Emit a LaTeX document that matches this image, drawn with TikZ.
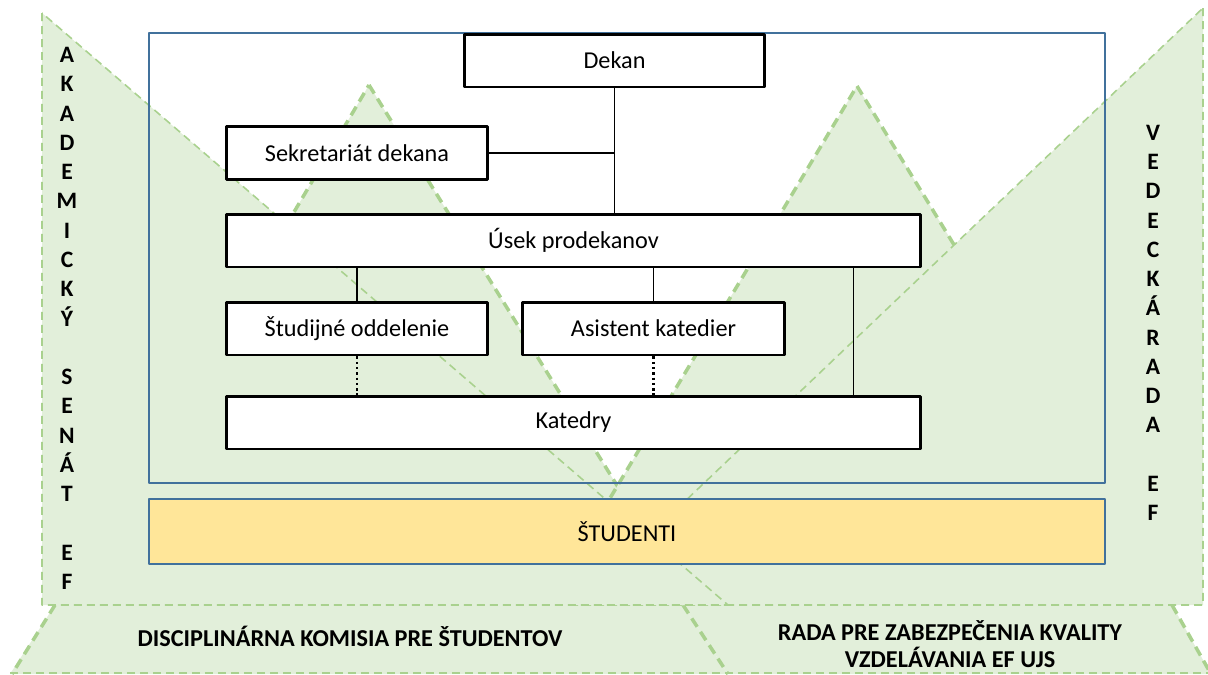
\documentclass[tikz,border=0pt]{standalone}
\usepackage{fontspec}
\setmainfont{Carlito}
\usetikzlibrary{positioning}

\definecolor{palegreen}{RGB}{226,239,218}
\definecolor{dashgreen}{RGB}{169,209,142}
\definecolor{frameblue}{RGB}{65,113,156}
\definecolor{studyellow}{RGB}{255,230,153}

\begin{document}
\begin{tikzpicture}[x=0.02cm, y=-0.02cm, line join=round,
  unit/.style={draw, line width=1.7pt, fill=white, minimum height=1.06cm, inner sep=0pt, font=\fontsize{13.8}{16}\selectfont},
  wide/.style={unit, minimum width=13.9cm},
  narrow/.style={unit, minimum width=5.24cm},
  bigtri/.style={fill=palegreen, draw=dashgreen, line width=0.9pt, dash pattern=on 0.16cm off 0.1cm},
  smalltri/.style={fill=palegreen, draw=dashgreen, line width=2pt, dash pattern=on 0.2cm off 0.12cm},
  thickdash/.style={draw=dashgreen, line width=2pt, dash pattern=on 0.2cm off 0.12cm},
  thindash/.style={draw=dashgreen, line width=0.9pt, dash pattern=on 0.16cm off 0.1cm},
  side/.style={anchor=base, inner sep=0pt, font=\fontsize{13.4}{16}\selectfont\bfseries},
  board/.style={inner sep=0pt, font=\fontsize{13.8}{15.3}\selectfont\bfseries},
  link/.style={line width=0.7pt},
  dots/.style={line width=1.4pt, dash pattern=on 1.4pt off 1.6pt}]

  \useasboundingbox (0,0) rectangle (1208,674);
  \clip (0,0) rectangle (1208,674);

  % bottom boards
  \fill[palegreen] (683,605) -- (1172,605) -- (1211,674) -- (728,674) -- cycle;
  \fill[palegreen] (55,605) -- (683,605) -- (728,674) -- (10,674) -- cycle;
  \draw[thickdash] (55,605) -- (12,674);
  \draw[thickdash] (683,605) -- (728,674);
  \draw[thickdash] (1172,605) -- (1211,674);
  \draw[thindash] (10,673) -- (1211,673);

  % peaks
  \draw[smalltri] (369,85) -- (688,600) -- (65,600) -- cycle;
  \draw[smalltri] (857,86) -- (1171,600) -- (549,600) -- cycle;

  % councils
  \draw[bigtri] (1203,8) -- (1203,605) -- (576,605) -- cycle;
  \draw[bigtri] (42,13) -- (42,605) -- (728,605) -- cycle;

  % faculty frame
  \draw[frameblue, line width=1.1pt] (149,33) rectangle (1105,483);
  \node[draw=frameblue, fill=studyellow, line width=1.1pt, minimum width=19.12cm, minimum height=1.3cm, font=\fontsize{13.8}{16}\selectfont] (studenti) at (627,531.5) {ŠTUDENTI};

  \node[unit, minimum width=6.02cm] (dekan) at (614.5,60.5) {Dekan};
  \node[narrow] (sekr) at (357,153) {Sekretariát dekana};
  \node[wide] (usek) at (573.5,240.5) {Úsek prodekanov};
  \node[narrow] (stud) at (357,328.5) {Študijné oddelenie};
  \node[narrow] (asist) at (653.5,328.5) {Asistent katedier};
  \node[wide] (kated) at (573.5,422.5) {Katedry};

  \draw[link] (dekan.south) -- (dekan.south |- usek.north);
  \draw[link] (sekr.east) -- (sekr.east -| dekan.south);
  \draw[link] (stud.north) -- (stud.north |- usek.south);
  \draw[link] (asist.north) -- (asist.north |- usek.south);
  \draw[link] ([xshift=5.6cm]usek.south) -- ([xshift=5.6cm]kated.north);
  \draw[dots] (stud.south) -- (stud.south |- kated.north);
  \draw[dots] (asist.south) -- (asist.south |- kated.north);

  % side labels
  \foreach \ch/\k in {A/0,K/1,A/2,D/3,E/4,M/5,I/6,C/7,K/8,Ý/9,S/11,E/12,N/13,Á/14,T/15,E/17,F/18}
    \node[side] (senat\k) at (67,62.5+29.28*\k) {\ch};
  \foreach \ch/\k in {V/0,E/1,D/2,E/3,C/4,K/5,Á/6,R/7,A/8,D/9,A/10,E/12,F/13}
    \node[side] (rada\k) at (1153,140.5+29.23*\k) {\ch};

  \node[board, anchor=base] (komisia) at (350,646) {DISCIPLINÁRNA KOMISIA PRE ŠTUDENTOV};
  \node[board, align=center] (kvalita) at (950,644) {RADA PRE ZABEZPEČENIA KVALITY\\VZDELÁVANIA EF UJS};

\end{tikzpicture}
\end{document}
